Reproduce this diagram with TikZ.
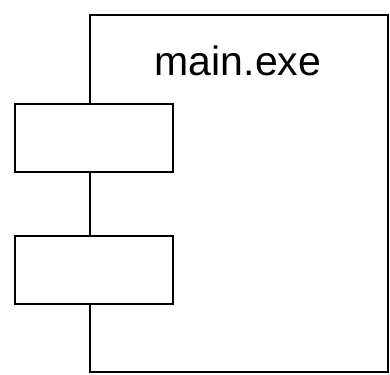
\documentclass[tikz,border=0pt]{standalone}
\usepackage{fontspec}
\setmainfont{Liberation Sans}
\begin{document}
\begin{tikzpicture}[x=1pt,y=-1pt,
  box/.style={draw=black,line width=2.3pt,fill=white,inner sep=0pt,anchor=north west},
  lbl/.style={font=\fontsize{41}{41}\selectfont,inner sep=0pt}]
\useasboundingbox (0,0) rectangle (390,374);
\node[box,minimum width=298pt,minimum height=357pt] (comp) at (89,14) {};
\node[box,minimum width=158pt,minimum height=68pt] (if1) at (14,103) {};
\node[box,minimum width=158pt,minimum height=68pt] (if2) at (14,235) {};
\node[lbl] (name) at (238,61) {main.exe};
\end{tikzpicture}
\end{document}
